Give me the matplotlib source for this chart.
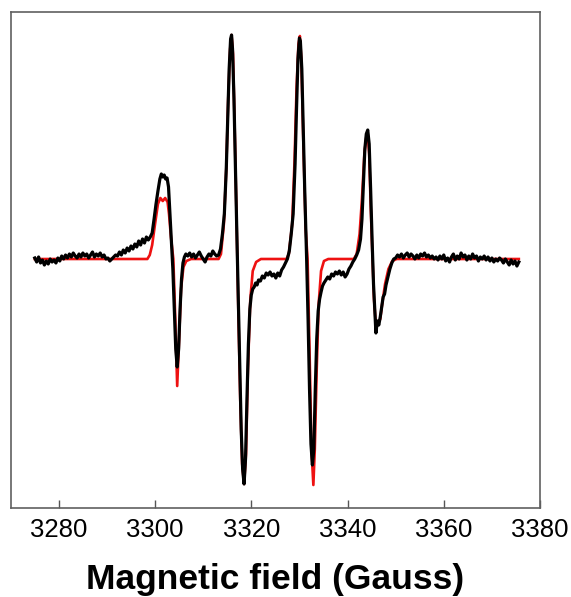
import matplotlib
matplotlib.use("Agg")
import matplotlib.pyplot as plt

# ---- experimental spectrum (black), field in Gauss, arbitrary intensity ----
exp_field = [
    3275.0, 3275.4, 3275.8, 3276.2, 3276.6, 3277.0, 3277.4, 3277.8, 3278.2, 3278.6,
    3279.0, 3279.4, 3279.8, 3280.2, 3280.6, 3281.0, 3281.4, 3281.8, 3282.2, 3282.6,
    3283.0, 3283.4, 3283.8, 3284.2, 3284.6, 3285.0, 3285.4, 3285.8, 3286.2, 3286.6,
    3287.0, 3287.4, 3287.8, 3288.2, 3288.6, 3289.0, 3289.4, 3289.8, 3290.2, 3290.6,
    3291.0, 3291.4, 3291.8,
    3292.2, 3292.6, 3293.0, 3293.4, 3293.8, 3294.2, 3294.6, 3295.0, 3295.4, 3295.8,
    3296.2, 3296.6, 3297.0, 3297.4, 3297.8, 3298.2, 3298.6, 3299.0, 3299.4,
    3299.8, 3300.2, 3300.6, 3301.0, 3301.3, 3301.6, 3301.9, 3302.2, 3302.5, 3302.8,
    3303.1, 3303.4, 3303.7, 3304.0, 3304.3, 3304.6, 3304.9, 3305.2, 3305.5, 3305.8,
    3306.1, 3306.4,
    3306.8, 3307.2, 3307.6, 3308.0, 3308.4, 3308.8, 3309.2, 3309.6, 3310.0, 3310.4,
    3310.8, 3311.2, 3311.6, 3312.0, 3312.4, 3312.8, 3313.2, 3313.6,
    3314.0, 3314.4, 3314.8, 3315.1, 3315.4, 3315.7, 3315.9, 3316.1, 3316.4, 3316.7,
    3317.0, 3317.3, 3317.6, 3317.9, 3318.2, 3318.5, 3318.8, 3319.1, 3319.4, 3319.7,
    3320.0, 3320.3, 3320.6, 3320.9, 3321.2, 3321.5, 3321.9, 3322.3, 3322.7, 3323.1,
    3323.5, 3323.9, 3324.3, 3324.7, 3325.1, 3325.5, 3325.9, 3326.3, 3326.7, 3327.1,
    3327.5, 3327.9,
    3328.3, 3328.7, 3329.1, 3329.4, 3329.7, 3330.0, 3330.2, 3330.5, 3330.8, 3331.1,
    3331.5, 3331.8, 3332.1, 3332.4, 3332.7, 3333.0, 3333.3, 3333.6, 3333.9, 3334.2,
    3334.5, 3334.8, 3335.1, 3335.5, 3335.9, 3336.3, 3336.7, 3337.1, 3337.5, 3337.9,
    3338.3, 3338.7, 3339.1, 3339.5, 3339.9, 3340.3, 3340.7, 3341.1, 3341.5, 3341.9,
    3342.3,
    3342.7, 3343.0, 3343.3, 3343.6, 3343.9, 3344.2, 3344.5, 3344.8, 3345.1, 3345.4,
    3345.7, 3345.9, 3346.2, 3346.5, 3346.8, 3347.1, 3347.4, 3347.7, 3348.0, 3348.4,
    3348.8, 3349.2, 3349.6, 3350.0,
    3350.4, 3350.8, 3351.2, 3351.6, 3352.0, 3352.4, 3352.8, 3353.2, 3353.6, 3354.0,
    3354.4, 3354.8, 3355.2, 3355.6, 3356.0, 3356.4, 3356.8, 3357.2, 3357.6, 3358.0,
    3358.4, 3358.8, 3359.2, 3359.6, 3360.0, 3360.4, 3360.8, 3361.2, 3361.6, 3362.0,
    3362.4, 3362.8, 3363.2, 3363.6, 3364.0, 3364.4, 3364.8, 3365.2, 3365.6, 3366.0,
    3366.4, 3366.8, 3367.2, 3367.6, 3368.0, 3368.4, 3368.8, 3369.2, 3369.6, 3370.0,
    3370.4, 3370.8, 3371.2, 3371.6, 3372.0, 3372.4, 3372.8, 3373.2, 3373.6, 3374.0,
    3374.4, 3374.8, 3375.2, 3375.6,
]
exp_signal = [
    1, -3, 2, -4, -1, -6, -2, -5, 0, -3,
    -1, -4, 1, -2, 3, 0, 4, 1, 5, 2,
    6, 3, 1, 5, 2, 6, 3, 5, 1, 4,
    7, 2, 5, 3, 6, 2, 4, 0, 1, -2,
    0, 2, 4,
    3, 7, 4, 9, 6, 11, 8, 13, 10, 15,
    12, 18, 14, 20, 16, 22, 19, 22, 26,
    40, 55, 68, 80, 85, 82, 84, 80, 81, 72,
    45, 18, -10, -50, -90, -108, -90, -50, -20, -4,
    2, 5,
    3, 6, 2, 5, 1, 4, 7, 3, 0, -3,
    2, 5, 3, 8, 5, 3, 4, 10,
    25, 45, 90, 140, 190, 220, 224, 210, 160, 90,
    25, -40, -110, -170, -210, -225, -200, -140, -85, -50,
    -36, -30, -28, -24, -26, -21, -22, -17, -19, -14,
    -16, -13, -17, -15, -19, -14, -17, -11, -8, -4,
    0, 8,
    25, 45, 95, 150, 200, 221, 218, 190, 130, 70,
    0, -60, -130, -185, -206, -190, -130, -80, -52, -40,
    -33, -27, -24, -21, -18, -20, -15, -17, -13, -15,
    -12, -16, -13, -18, -15, -10, -7, -3, 0, 4,
    9,
    20, 40, 75, 110, 125, 129, 115, 70, 20, -25,
    -55, -74, -62, -66, -58, -48, -38, -35, -26, -18,
    -10, -4, 0, 1,
    4, 2, 5, 1, 4, 6, 2, 5, 3, 0,
    4, 1, 5, 3, 6, 2, 4, 1, 3, 0,
    2, -1, 3, 0, 4, -2, 1, -3, 2, 5,
    -1, 3, 0, 6, 2, 4, -1, 3, 0, 5,
    1, 3, -2, 2, 0, 3, -1, 2, -2, 1,
    -3, 0, -2, 1, -1, -4, 0, -3, -6, -1,
    -5, -2, -7, -3,
]

# ---- simulated spectrum (red) ----
sim_field = [
    3275.0, 3298.4, 3298.9, 3299.4, 3300.0, 3300.6, 3301.1, 3301.6, 3302.1, 3302.6,
    3302.9, 3303.3, 3303.8, 3304.2, 3304.6, 3305.0, 3305.4, 3305.9, 3306.5, 3307.5,
    3313.2, 3313.7, 3314.3, 3314.8, 3315.2, 3315.6, 3315.9, 3316.2, 3316.6, 3317.0,
    3317.3, 3317.7, 3318.1, 3318.5, 3318.9, 3319.3, 3319.8, 3320.3, 3321.0, 3322.0,
    3327.3, 3327.8, 3328.5, 3329.0, 3329.4, 3329.8, 3330.1, 3330.4, 3330.8, 3331.3,
    3331.7, 3332.1, 3332.5, 3332.9, 3333.2, 3333.6, 3334.0, 3334.5, 3335.1, 3336.0,
    3341.3, 3341.9, 3342.5, 3343.0, 3343.5, 3343.9, 3344.2, 3344.5, 3344.8, 3345.2,
    3345.5, 3345.8, 3346.1, 3346.4, 3346.8, 3347.2, 3347.8, 3348.5, 3349.3, 3350.2,
    3375.6,
]
sim_signal = [
    0, 0, 4, 14, 35, 55, 61, 58, 61, 57,
    45, 22, 0, -60, -127, -80, -30, -8, -2, 0,
    0, 5, 35, 90, 160, 210, 224, 205, 120, 25,
    -50, -140, -205, -225, -195, -110, -40, -12, -3, 0,
    0, 5, 35, 100, 170, 215, 223, 200, 120, 30,
    0, -90, -190, -226, -190, -110, -45, -12, -2, 0,
    0, 5, 25, 60, 105, 122, 125, 105, 55, 0,
    -40, -60, -63, -64, -60, -45, -25, -10, -2, 0,
    0,
]

x_ticks = [3280, 3300, 3320, 3340, 3360, 3380]
x_label = "Magnetic field (Gauss)"

plt.rcParams['font.family'] = ['Liberation Sans', 'DejaVu Sans']

fig = plt.figure(figsize=(5.71, 5.97), dpi=100)
ax = fig.add_axes([10.7 / 571, 1 - 507.7 / 597, (540 - 10.7) / 571, (507.7 - 12) / 597])

ax.plot(sim_field, sim_signal, color='#ee1111', lw=1.9, solid_joinstyle='round', zorder=2)
ax.plot(exp_field, exp_signal, color='black', lw=2.3, solid_joinstyle='round', zorder=3)

ax.set_xlim(3270, 3380)
ax.set_ylim(-248.7, 247)
ax.set_xticks(x_ticks)
ax.set_xticklabels([str(t) for t in x_ticks])
ax.set_yticks([])
ax.tick_params(axis='x', direction='in', length=5.5, width=1.0, color='#555555',
               labelsize=18.5, pad=7.5)
for s in ax.spines.values():
    s.set_color('#606060')
    s.set_linewidth(1.2)

ax.set_xlabel(x_label, fontsize=25.5, fontweight='bold', labelpad=15)

fig.savefig('out.png', dpi=100)
